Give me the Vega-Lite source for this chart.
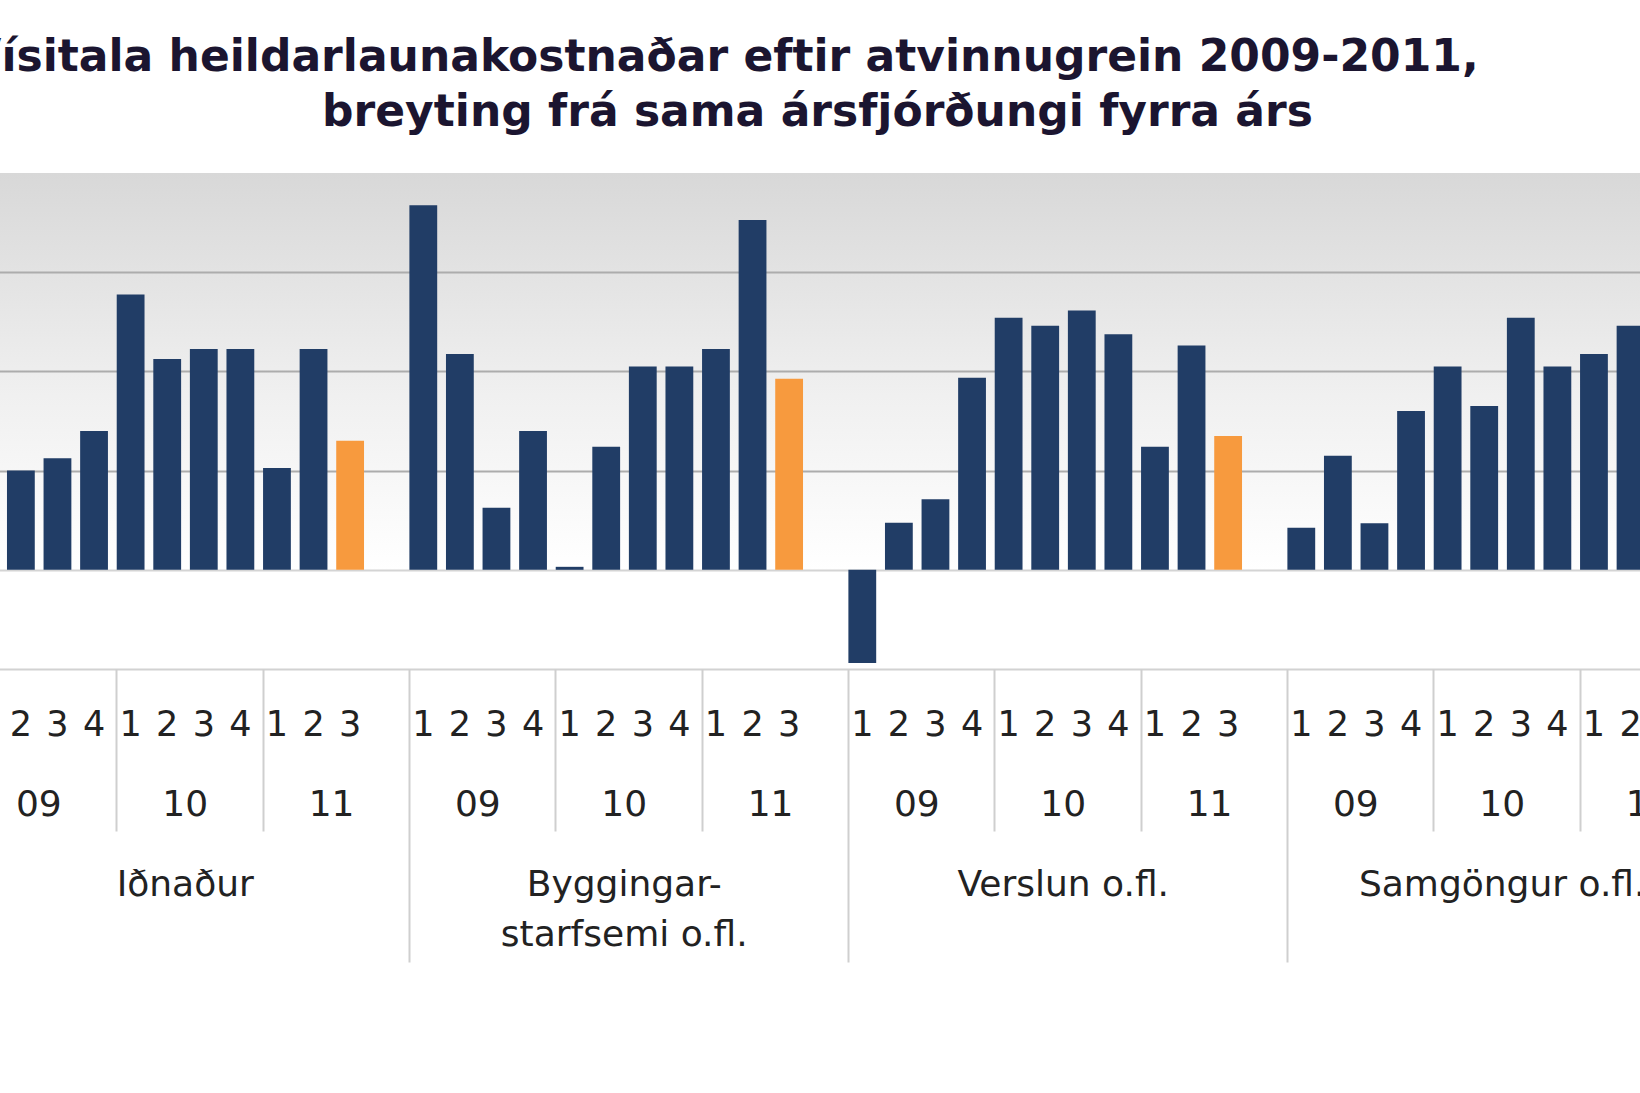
{
  "$schema": "https://vega.github.io/schema/vega-lite/v6.json",
  "width": 1640,
  "height": 496,
  "autosize": "none",
  "padding": {"top": 173, "left": 0, "right": 0, "bottom": 424},
  "background": "#ffffff",
  "title": {
    "text": "Vísitala heildarlaunakostnaðar eftir atvinnugrein 2009-2011,",
    "font": "DejaVu Sans",
    "fontWeight": "bold",
    "fontSize": 44,
    "color": "#1b1530",
    "anchor": "middle",
    "dx": -97,
    "offset": 10
  },
  "config": {
    "view": {
      "stroke": null,
      "fill": {"gradient": "linear", "x1": 0, "y1": 0, "x2": 0, "y2": 1, "stops": [{"offset": 0, "color": "#d8d8d8"}, {"offset": 0.45, "color": "#f0f0f0"}, {"offset": 0.8, "color": "#ffffff"}]}
    },
    "axis": {"labelFont": "DejaVu Sans", "labelFontSize": 35, "labelColor": "#222222", "labelOverlap": false, "labelBound": false, "labelFlush": false, "labelLimit": 0, "title": null}
  },
  "data": {
    "values": [
      {"atvinnugrein": "Iðnaður", "ar": "09", "arsfj": 1, "slot": "Iðnaður|09|1", "breyting": 3.4},
      {"atvinnugrein": "Iðnaður", "ar": "09", "arsfj": 2, "slot": "Iðnaður|09|2", "breyting": 2.0},
      {"atvinnugrein": "Iðnaður", "ar": "09", "arsfj": 3, "slot": "Iðnaður|09|3", "breyting": 2.25},
      {"atvinnugrein": "Iðnaður", "ar": "09", "arsfj": 4, "slot": "Iðnaður|09|4", "breyting": 2.8},
      {"atvinnugrein": "Iðnaður", "ar": "10", "arsfj": 1, "slot": "Iðnaður|10|1", "breyting": 5.55},
      {"atvinnugrein": "Iðnaður", "ar": "10", "arsfj": 2, "slot": "Iðnaður|10|2", "breyting": 4.25},
      {"atvinnugrein": "Iðnaður", "ar": "10", "arsfj": 3, "slot": "Iðnaður|10|3", "breyting": 4.45},
      {"atvinnugrein": "Iðnaður", "ar": "10", "arsfj": 4, "slot": "Iðnaður|10|4", "breyting": 4.45},
      {"atvinnugrein": "Iðnaður", "ar": "11", "arsfj": 1, "slot": "Iðnaður|11|1", "breyting": 2.05},
      {"atvinnugrein": "Iðnaður", "ar": "11", "arsfj": 2, "slot": "Iðnaður|11|2", "breyting": 4.45},
      {"atvinnugrein": "Iðnaður", "ar": "11", "arsfj": 3, "slot": "Iðnaður|11|3", "breyting": 2.6},
      {"atvinnugrein": "Byggingarstarfsemi o.fl.", "ar": "09", "arsfj": 1, "slot": "Byggingarstarfsemi o.fl.|09|1", "breyting": 7.35},
      {"atvinnugrein": "Byggingarstarfsemi o.fl.", "ar": "09", "arsfj": 2, "slot": "Byggingarstarfsemi o.fl.|09|2", "breyting": 4.35},
      {"atvinnugrein": "Byggingarstarfsemi o.fl.", "ar": "09", "arsfj": 3, "slot": "Byggingarstarfsemi o.fl.|09|3", "breyting": 1.25},
      {"atvinnugrein": "Byggingarstarfsemi o.fl.", "ar": "09", "arsfj": 4, "slot": "Byggingarstarfsemi o.fl.|09|4", "breyting": 2.8},
      {"atvinnugrein": "Byggingarstarfsemi o.fl.", "ar": "10", "arsfj": 1, "slot": "Byggingarstarfsemi o.fl.|10|1", "breyting": 0.06},
      {"atvinnugrein": "Byggingarstarfsemi o.fl.", "ar": "10", "arsfj": 2, "slot": "Byggingarstarfsemi o.fl.|10|2", "breyting": 2.48},
      {"atvinnugrein": "Byggingarstarfsemi o.fl.", "ar": "10", "arsfj": 3, "slot": "Byggingarstarfsemi o.fl.|10|3", "breyting": 4.1},
      {"atvinnugrein": "Byggingarstarfsemi o.fl.", "ar": "10", "arsfj": 4, "slot": "Byggingarstarfsemi o.fl.|10|4", "breyting": 4.1},
      {"atvinnugrein": "Byggingarstarfsemi o.fl.", "ar": "11", "arsfj": 1, "slot": "Byggingarstarfsemi o.fl.|11|1", "breyting": 4.45},
      {"atvinnugrein": "Byggingarstarfsemi o.fl.", "ar": "11", "arsfj": 2, "slot": "Byggingarstarfsemi o.fl.|11|2", "breyting": 7.05},
      {"atvinnugrein": "Byggingarstarfsemi o.fl.", "ar": "11", "arsfj": 3, "slot": "Byggingarstarfsemi o.fl.|11|3", "breyting": 3.85},
      {"atvinnugrein": "Verslun o.fl.", "ar": "09", "arsfj": 1, "slot": "Verslun o.fl.|09|1", "breyting": -1.88},
      {"atvinnugrein": "Verslun o.fl.", "ar": "09", "arsfj": 2, "slot": "Verslun o.fl.|09|2", "breyting": 0.95},
      {"atvinnugrein": "Verslun o.fl.", "ar": "09", "arsfj": 3, "slot": "Verslun o.fl.|09|3", "breyting": 1.42},
      {"atvinnugrein": "Verslun o.fl.", "ar": "09", "arsfj": 4, "slot": "Verslun o.fl.|09|4", "breyting": 3.87},
      {"atvinnugrein": "Verslun o.fl.", "ar": "10", "arsfj": 1, "slot": "Verslun o.fl.|10|1", "breyting": 5.08},
      {"atvinnugrein": "Verslun o.fl.", "ar": "10", "arsfj": 2, "slot": "Verslun o.fl.|10|2", "breyting": 4.92},
      {"atvinnugrein": "Verslun o.fl.", "ar": "10", "arsfj": 3, "slot": "Verslun o.fl.|10|3", "breyting": 5.23},
      {"atvinnugrein": "Verslun o.fl.", "ar": "10", "arsfj": 4, "slot": "Verslun o.fl.|10|4", "breyting": 4.75},
      {"atvinnugrein": "Verslun o.fl.", "ar": "11", "arsfj": 1, "slot": "Verslun o.fl.|11|1", "breyting": 2.48},
      {"atvinnugrein": "Verslun o.fl.", "ar": "11", "arsfj": 2, "slot": "Verslun o.fl.|11|2", "breyting": 4.52},
      {"atvinnugrein": "Verslun o.fl.", "ar": "11", "arsfj": 3, "slot": "Verslun o.fl.|11|3", "breyting": 2.7},
      {"atvinnugrein": "Samgöngur o.fl.", "ar": "09", "arsfj": 1, "slot": "Samgöngur o.fl.|09|1", "breyting": 0.85},
      {"atvinnugrein": "Samgöngur o.fl.", "ar": "09", "arsfj": 2, "slot": "Samgöngur o.fl.|09|2", "breyting": 2.3},
      {"atvinnugrein": "Samgöngur o.fl.", "ar": "09", "arsfj": 3, "slot": "Samgöngur o.fl.|09|3", "breyting": 0.94},
      {"atvinnugrein": "Samgöngur o.fl.", "ar": "09", "arsfj": 4, "slot": "Samgöngur o.fl.|09|4", "breyting": 3.2},
      {"atvinnugrein": "Samgöngur o.fl.", "ar": "10", "arsfj": 1, "slot": "Samgöngur o.fl.|10|1", "breyting": 4.1},
      {"atvinnugrein": "Samgöngur o.fl.", "ar": "10", "arsfj": 2, "slot": "Samgöngur o.fl.|10|2", "breyting": 3.3},
      {"atvinnugrein": "Samgöngur o.fl.", "ar": "10", "arsfj": 3, "slot": "Samgöngur o.fl.|10|3", "breyting": 5.08},
      {"atvinnugrein": "Samgöngur o.fl.", "ar": "10", "arsfj": 4, "slot": "Samgöngur o.fl.|10|4", "breyting": 4.1},
      {"atvinnugrein": "Samgöngur o.fl.", "ar": "11", "arsfj": 1, "slot": "Samgöngur o.fl.|11|1", "breyting": 4.35},
      {"atvinnugrein": "Samgöngur o.fl.", "ar": "11", "arsfj": 2, "slot": "Samgöngur o.fl.|11|2", "breyting": 4.92},
      {"atvinnugrein": "Samgöngur o.fl.", "ar": "11", "arsfj": 3, "slot": "Samgöngur o.fl.|11|3", "breyting": 3.0}
    ]
  },
  "resolve": {"axis": {"x": "independent"}},
  "encoding": {
    "x": {
      "field": "slot",
      "type": "nominal",
      "sort": null,
      "scale": {
        "domain": [
          "Iðnaður|09|1","Iðnaður|09|2","Iðnaður|09|3","Iðnaður|09|4","Iðnaður|10|1","Iðnaður|10|2","Iðnaður|10|3","Iðnaður|10|4","Iðnaður|11|1","Iðnaður|11|2","Iðnaður|11|3","Iðnaður|11|4",
          "Byggingarstarfsemi o.fl.|09|1","Byggingarstarfsemi o.fl.|09|2","Byggingarstarfsemi o.fl.|09|3","Byggingarstarfsemi o.fl.|09|4","Byggingarstarfsemi o.fl.|10|1","Byggingarstarfsemi o.fl.|10|2","Byggingarstarfsemi o.fl.|10|3","Byggingarstarfsemi o.fl.|10|4","Byggingarstarfsemi o.fl.|11|1","Byggingarstarfsemi o.fl.|11|2","Byggingarstarfsemi o.fl.|11|3","Byggingarstarfsemi o.fl.|11|4",
          "Verslun o.fl.|09|1","Verslun o.fl.|09|2","Verslun o.fl.|09|3","Verslun o.fl.|09|4","Verslun o.fl.|10|1","Verslun o.fl.|10|2","Verslun o.fl.|10|3","Verslun o.fl.|10|4","Verslun o.fl.|11|1","Verslun o.fl.|11|2","Verslun o.fl.|11|3","Verslun o.fl.|11|4",
          "Samgöngur o.fl.|09|1","Samgöngur o.fl.|09|2","Samgöngur o.fl.|09|3","Samgöngur o.fl.|09|4","Samgöngur o.fl.|10|1","Samgöngur o.fl.|10|2","Samgöngur o.fl.|10|3","Samgöngur o.fl.|10|4","Samgöngur o.fl.|11|1","Samgöngur o.fl.|11|2","Samgöngur o.fl.|11|3","Samgöngur o.fl.|11|4"
        ],
        "range": [-34, 1722],
        "paddingInner": 0.24,
        "paddingOuter": 0.12
      }
    },
    "y": {
      "field": "breyting",
      "type": "quantitative",
      "scale": {"domain": [-2, 8], "nice": false, "zero": false},
      "axis": {"values": [0, 2, 4, 6], "labels": false, "ticks": false, "domain": false, "grid": true, "gridWidth": 2,
               "gridColor": {"condition": {"test": "datum.value === 0", "value": "#d4d4d4"}, "value": "#acacac"}}
    }
  },
  "layer": [
    {
      "mark": {"type": "bar"},
      "encoding": {
        "x": {
          "field": "slot", "type": "nominal", "sort": null,
          "axis": {
            "orient": "bottom",
            "ticks": false,
            "domain": true, "domainColor": "#d2d2d2", "domainWidth": 2,
            "labelAngle": 0, "labelBaseline": "middle", "labelPadding": 55,
            "labelExpr": "split(datum.value, '|')[1] == '11' && split(datum.value, '|')[2] == '4' ? '' : split(datum.value, '|')[2]"
          }
        },
        "color": {
          "condition": {"test": "datum.ar === '11' && datum.arsfj === 3", "value": "#f79a3e"},
          "value": "#213d66"
        }
      }
    },
    {
      "mark": {"type": "bar", "opacity": 0},
      "encoding": {
        "x": {
          "field": "slot", "type": "nominal", "sort": null,
          "axis": {
            "orient": "bottom",
            "values": ["Iðnaður|09|2","Iðnaður|10|2","Iðnaður|11|2","Byggingarstarfsemi o.fl.|09|2","Byggingarstarfsemi o.fl.|10|2","Byggingarstarfsemi o.fl.|11|2","Verslun o.fl.|09|2","Verslun o.fl.|10|2","Verslun o.fl.|11|2","Samgöngur o.fl.|09|2","Samgöngur o.fl.|10|2","Samgöngur o.fl.|11|2"],
            "ticks": false, "domain": false, "labelFontSize": 36,
            "labelAngle": 0, "labelBaseline": "middle", "labelPadding": 135, "labelOffset": 18,
            "labelExpr": "split(datum.value, '|')[1]"
          }
        }
      }
    },
    {
      "mark": {"type": "bar", "opacity": 0},
      "encoding": {
        "x": {
          "field": "slot", "type": "nominal", "sort": null,
          "axis": {
            "orient": "bottom",
            "values": ["Iðnaður|10|1","Iðnaður|11|1","Byggingarstarfsemi o.fl.|10|1","Byggingarstarfsemi o.fl.|11|1","Verslun o.fl.|10|1","Verslun o.fl.|11|1","Samgöngur o.fl.|10|1","Samgöngur o.fl.|11|1"],
            "bandPosition": 0, "ticks": true, "tickSize": 162, "tickColor": "#cfcfcf", "tickWidth": 2,
            "labels": false, "domain": false
          }
        }
      }
    },
    {
      "mark": {"type": "bar", "opacity": 0},
      "encoding": {
        "x": {
          "field": "slot", "type": "nominal", "sort": null,
          "axis": {
            "orient": "bottom",
            "values": ["Iðnaður|10|2","Byggingarstarfsemi o.fl.|10|2","Verslun o.fl.|10|2","Samgöngur o.fl.|10|2"],
            "ticks": false, "domain": false, "labelFontSize": 36,
            "labelAngle": 0, "labelBaseline": "top", "labelPadding": 198, "labelOffset": 18, "labelLineHeight": 50,
            "labelExpr": "datum.value == 'Byggingarstarfsemi o.fl.|10|2' ? ['Byggingar-', 'starfsemi o.fl.'] : split(datum.value, '|')[0]"
          }
        }
      }
    },
    {
      "mark": {"type": "bar", "opacity": 0},
      "encoding": {
        "x": {
          "field": "slot", "type": "nominal", "sort": null,
          "axis": {
            "orient": "bottom",
            "values": ["Iðnaður|09|1","Byggingarstarfsemi o.fl.|09|1","Verslun o.fl.|09|1","Samgöngur o.fl.|09|1"],
            "bandPosition": 0, "ticks": true, "tickSize": 293, "tickColor": "#cfcfcf", "tickWidth": 2,
            "labels": false, "domain": false
          }
        }
      }
    },
    {
      "mark": {"type": "bar", "opacity": 0},
      "encoding": {
        "x": {
          "field": "slot", "type": "nominal", "sort": null,
          "axis": {
            "orient": "top",
            "labels": false, "ticks": false, "domain": false,
            "title": "breyting frá sama ársfjórðungi fyrra árs",
            "titleFont": "DejaVu Sans", "titleFontWeight": "bold", "titleFontSize": 44, "titleColor": "#1b1530",
            "titleAnchor": "middle", "titleAlign": "center", "titleX": 817, "titlePadding": 39
          }
        }
      }
    }
  ]
}
